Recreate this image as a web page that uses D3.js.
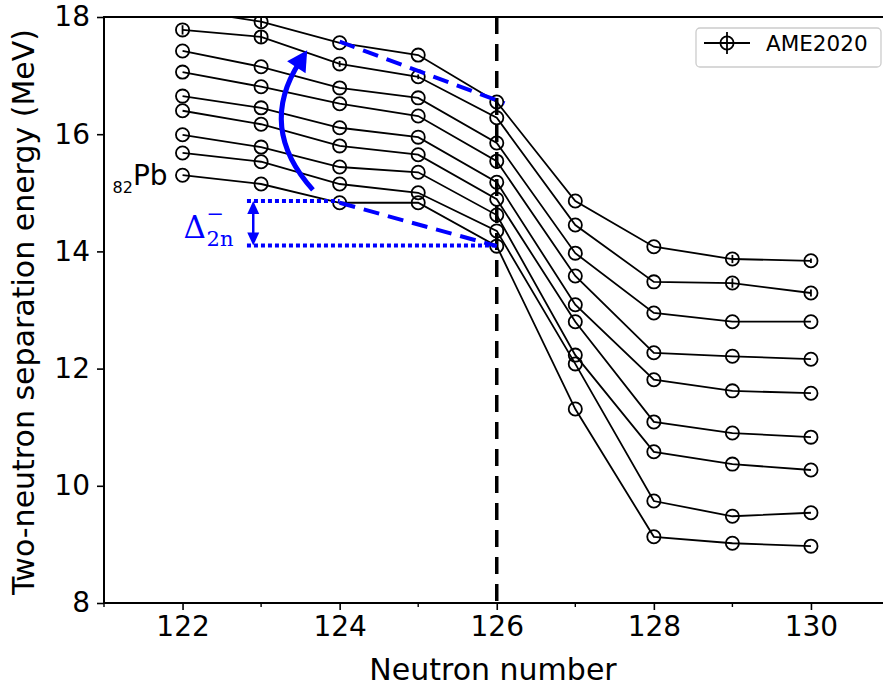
<!DOCTYPE html>
<html>
<head>
<meta charset="utf-8">
<script src="https://cdnjs.cloudflare.com/ajax/libs/d3/7.8.5/d3.min.js"></script>
<style>
  body { margin: 0; background: #fff; }
  text { font-family: "DejaVu Sans", sans-serif; }
</style>
</head>
<body>
<div id="chart"></div>
<script>
// two-neutron separation energies around N = 126 (MeV), one array per element
var neutrons = [122, 123, 124, 125, 126, 127, 128, 129, 130];
var s2nTh = [18.13, 17.92, 17.56, 17.35, 16.55, 14.86, 14.08, 13.87, 13.84];
var s2nAc = [17.78, 17.66, 17.20, 16.98, 16.28, 14.45, 13.48, 13.46, 13.29];
var s2nRa = [17.42, 17.15, 16.79, 16.62, 15.85, 13.97, 12.95, 12.80, 12.80];
var s2nFr = [17.06, 16.81, 16.52, 16.31, 15.54, 13.58, 12.27, 12.21, 12.16];
var s2nRn = [16.65, 16.45, 16.11, 15.95, 15.18, 13.09, 11.81, 11.62, 11.58];
var s2nAt = [16.40, 16.17, 15.80, 15.65, 14.89, 12.80, 11.09, 10.90, 10.83];
var s2nPo = [15.99, 15.78, 15.44, 15.35, 14.62, 12.23, 10.58, 10.37, 10.27];
var s2nBi = [15.68, 15.53, 15.15, 15.00, 14.35, 12.08, 9.74, 9.48, 9.54];
var s2nPb = [15.30, 15.15, 14.83, 14.83, 14.09, 11.31, 9.13, 9.02, 8.97];

// uncertainties (only the heavy ones are big enough to see)
var errTh = [0.06, 0.10, 0, 0, 0, 0, 0, 0.07, 0.04];
var errAc = [0.08, 0.10, 0.05, 0.04, 0, 0, 0, 0.08, 0.06];

var xTicks = [122, 124, 126, 128, 130];
var xMinor = [121, 123, 125, 127, 129, 131];
var yTicks = [8, 10, 12, 14, 16, 18];

// gap annotation: S2n(N=124) level and S2n(N=126) level of Pb
var gapTop = 14.86, gapBottom = 14.10;

var chains = [
  {el: "Th", v: s2nTh, e: errTh},
  {el: "Ac", v: s2nAc, e: errAc},
  {el: "Ra", v: s2nRa},
  {el: "Fr", v: s2nFr},
  {el: "Rn", v: s2nRn},
  {el: "At", v: s2nAt},
  {el: "Po", v: s2nPo},
  {el: "Bi", v: s2nBi},
  {el: "Pb", v: s2nPb}
];

var width = 883, height = 686;
var margin = {top: 17, left: 104, bottom: 83};

var x = d3.scaleLinear().domain([121, 131]).range([margin.left, margin.left + 785.5]);
var y = d3.scaleLinear().domain([8, 18]).range([height - margin.bottom, margin.top]);

var svg = d3.select("#chart").append("svg")
  .attr("width", width)
  .attr("height", height);

svg.append("clipPath").attr("id", "plot")
  .append("rect")
  .attr("x", x(121)).attr("y", y(18))
  .attr("width", x(131) - x(121)).attr("height", y(8) - y(18));

var plot = svg.append("g").attr("clip-path", "url(#plot)");

// magic number N = 126
plot.append("line")
  .attr("x1", x(126)).attr("x2", x(126))
  .attr("y1", y(18)).attr("y2", y(8))
  .attr("stroke", "#000")
  .attr("stroke-width", 3.5)
  .attr("stroke-dasharray", "17,10");

var line = d3.line()
  .x(function(d, i) { return x(neutrons[i]); })
  .y(function(d) { return y(d); });

chains.forEach(function(c) {
  var g = plot.append("g").attr("class", "chain-" + c.el);
  g.append("path")
    .datum(c.v)
    .attr("d", line)
    .attr("fill", "none")
    .attr("stroke", "#000")
    .attr("stroke-width", 1.8);

  if (c.e) {
    g.selectAll(".err")
      .data(c.v.map(function(v, i) { return {n: neutrons[i], v: v, e: c.e[i]}; }).filter(function(d) { return d.e > 0; }))
      .enter().append("line")
      .attr("x1", function(d) { return x(d.n); })
      .attr("x2", function(d) { return x(d.n); })
      .attr("y1", function(d) { return y(d.v - d.e); })
      .attr("y2", function(d) { return y(d.v + d.e); })
      .attr("stroke", "#000")
      .attr("stroke-width", 1.8);
  }

  g.selectAll("circle")
    .data(c.v)
    .enter().append("circle")
    .attr("cx", function(d, i) { return x(neutrons[i]); })
    .attr("cy", function(d) { return y(d); })
    .attr("r", 6.6)
    .attr("fill", "none")
    .attr("stroke", "#000")
    .attr("stroke-width", 1.8);
});

// blue annotations
var blue = "#0000ff";
var ann = svg.append("g");

// slopes before the shell closure
ann.append("line")
  .attr("x1", x(124)).attr("y1", y(17.58))
  .attr("x2", x(126.1)).attr("y2", y(16.53))
  .attr("stroke", blue).attr("stroke-width", 4)
  .attr("stroke-dasharray", "16,9");
ann.append("line")
  .attr("x1", x(124)).attr("y1", y(s2nPb[2]))
  .attr("x2", x(126)).attr("y2", y(s2nPb[4]))
  .attr("stroke", blue).attr("stroke-width", 4)
  .attr("stroke-dasharray", "16,9");

// dotted levels
ann.append("line")
  .attr("x1", x(122.82)).attr("x2", x(124))
  .attr("y1", y(gapTop)).attr("y2", y(gapTop))
  .attr("stroke", blue).attr("stroke-width", 4)
  .attr("stroke-dasharray", "4,3");
ann.append("line")
  .attr("x1", x(122.82)).attr("x2", x(126))
  .attr("y1", y(gapBottom)).attr("y2", y(gapBottom))
  .attr("stroke", blue).attr("stroke-width", 4)
  .attr("stroke-dasharray", "4,3");

// double headed arrow for the gap
var ax = x(122.9), at = y(gapTop), ab = y(gapBottom);
ann.append("line")
  .attr("x1", ax).attr("x2", ax)
  .attr("y1", at + 10).attr("y2", ab - 10)
  .attr("stroke", blue).attr("stroke-width", 2.5);
ann.append("path")
  .attr("d", "M" + ax + "," + at + "L" + (ax - 6) + "," + (at + 13) + "L" + (ax + 6) + "," + (at + 13) + "Z")
  .attr("fill", blue);
ann.append("path")
  .attr("d", "M" + ax + "," + ab + "L" + (ax - 6) + "," + (ab - 13) + "L" + (ax + 6) + "," + (ab - 13) + "Z")
  .attr("fill", blue);

// Δ⁻₂ₙ label
var lbl = ann.append("text")
  .attr("fill", blue)
  .style("font-family", "'DejaVu Serif', serif");
lbl.append("tspan")
  .attr("x", x(122) + 1).attr("y", y(gapTop) + 37)
  .style("font-size", "31px")
  .text("Δ");
lbl.append("tspan")
  .attr("x", x(122) + 24).attr("y", y(gapTop) + 20)
  .style("font-size", "21px")
  .text("−");
lbl.append("tspan")
  .attr("x", x(122) + 24).attr("y", y(gapTop) + 45)
  .style("font-size", "21px")
  .text("2n");

// curved arrow sweeping up the chains
var p0 = [x(123.66), y(15.05)], pc = [x(122.95), y(16.11)], p2 = [x(123.49), y(17.23)];
ann.append("path")
  .attr("d", "M" + p0 + "Q" + pc + " " + p2)
  .attr("fill", "none")
  .attr("stroke", blue)
  .attr("stroke-width", 5);
var dx = p2[0] - pc[0], dy = p2[1] - pc[1], len = Math.sqrt(dx * dx + dy * dy);
var ux = dx / len, uy = dy / len;
var tip = [p2[0] + ux * 14, p2[1] + uy * 14];
var back = [p2[0] - ux * 6, p2[1] - uy * 6];
ann.append("path")
  .attr("d", "M" + tip + "L" + [back[0] - uy * 11, back[1] + ux * 11] +
        "L" + [back[0] + uy * 11, back[1] - ux * 11] + "Z")
  .attr("fill", blue);

// element label for the lowest chain
var pb = svg.append("text")
  .attr("x", x(122) - 15)
  .attr("y", y(s2nPb[0]) + 10)
  .attr("text-anchor", "end")
  .attr("fill", "#000");
pb.append("tspan").style("font-size", "16px").attr("dy", 8).text("82");
pb.append("tspan").style("font-size", "28px").attr("dy", -8).text("Pb");

// axes
var xAxis = d3.axisBottom(x).tickValues(xTicks).tickSize(7).tickPadding(6);
var gx = svg.append("g")
  .attr("transform", "translate(0," + y(8) + ")")
  .call(xAxis);
gx.selectAll("text").style("font-size", "28px").attr("fill", "#000");

gx.selectAll(".minor")
  .data(xMinor)
  .enter().append("line")
  .attr("x1", function(d) { return x(d); })
  .attr("x2", function(d) { return x(d); })
  .attr("y1", 0).attr("y2", 4)
  .attr("stroke", "#000").attr("stroke-width", 1.4);

var yAxis = d3.axisLeft(y).tickValues(yTicks).tickSize(7).tickPadding(7);
var gy = svg.append("g")
  .attr("transform", "translate(" + x(121) + ",0)")
  .call(yAxis);
gy.selectAll("text").style("font-size", "28px").attr("fill", "#000");

[gx, gy].forEach(function(g) {
  g.select(".domain").remove();
  g.selectAll(".tick line").attr("stroke", "#000").attr("stroke-width", 1.6);
});

// spines
svg.append("rect")
  .attr("x", x(121)).attr("y", y(18))
  .attr("width", x(131) - x(121)).attr("height", y(8) - y(18))
  .attr("fill", "none")
  .attr("stroke", "#000")
  .attr("stroke-width", 2);

svg.append("text")
  .attr("x", (x(121) + 882) / 2)
  .attr("y", 680)
  .attr("text-anchor", "middle")
  .style("font-size", "30px")
  .text("Neutron number");

svg.append("text")
  .attr("transform", "translate(34," + ((y(8) + y(18)) / 2 + 2) + ") rotate(-90)")
  .attr("text-anchor", "middle")
  .style("font-size", "30px")
  .text("Two-neutron separation energy (MeV)");

// legend
var lg = svg.append("g").attr("transform", "translate(696,28)");
lg.append("rect")
  .attr("width", 185).attr("height", 39).attr("rx", 4)
  .attr("fill", "#fff").attr("fill-opacity", 0.8)
  .attr("stroke", "#cccccc").attr("stroke-width", 1.3);
lg.append("line")
  .attr("x1", 8).attr("x2", 54).attr("y1", 15).attr("y2", 15)
  .attr("stroke", "#000").attr("stroke-width", 1.8);
lg.append("line")
  .attr("x1", 31).attr("x2", 31).attr("y1", 4).attr("y2", 26)
  .attr("stroke", "#000").attr("stroke-width", 1.8);
lg.append("circle")
  .attr("cx", 31).attr("cy", 15).attr("r", 6.6)
  .attr("fill", "none").attr("stroke", "#000").attr("stroke-width", 1.8);
lg.append("text")
  .attr("x", 70).attr("y", 23)
  .style("font-size", "21.5px")
  .text("AME2020");
</script>
</body>
</html>
